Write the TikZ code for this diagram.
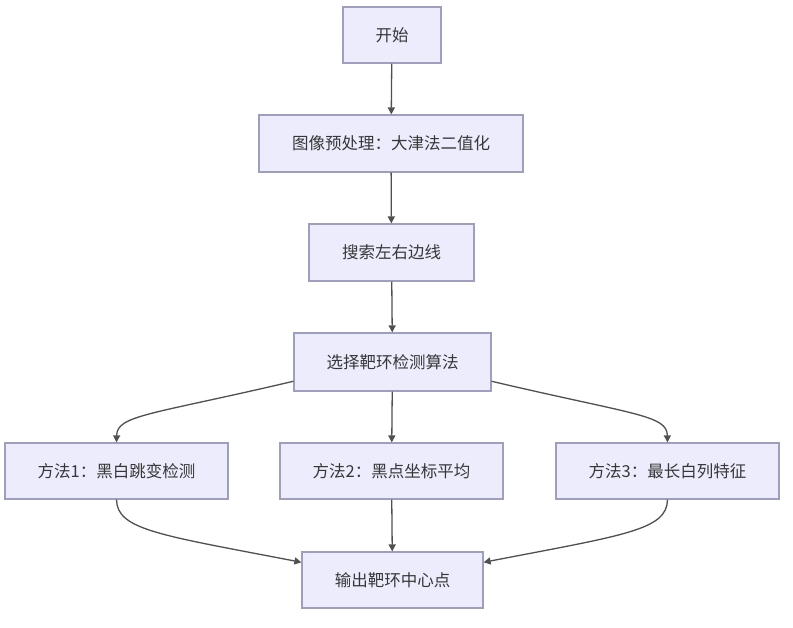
\documentclass[tikz,border=0pt]{standalone}
\usepackage{fontspec}
\setmainfont{Noto Sans CJK SC}
\usetikzlibrary{arrows.meta}
\definecolor{boxfill}{RGB}{236,236,252}
\definecolor{boxdraw}{RGB}{158,158,190}
\definecolor{linecol}{RGB}{80,80,80}
\definecolor{textcol}{RGB}{55,55,55}
\begin{document}
\begin{tikzpicture}[x=1pt,y=-1pt,
  box/.style={draw=boxdraw,fill=boxfill,line width=1.2pt,rectangle,inner sep=0pt,
    text=textcol,font=\fontsize{16.5}{19}\selectfont,align=center},
  conn/.style={draw=linecol,line width=1.3pt,-{Triangle[length=7pt,width=7pt]}}]
\useasboundingbox (0,0) rectangle (793,627);
\fill[white] (0,0) rectangle (793,627);
\node[box,minimum width=98pt,minimum height=56pt] (n1) at (392,35) {开始};
\node[box,minimum width=264pt,minimum height=57pt] (n2) at (391,143.5) {图像预处理：大津法二值化};
\node[box,minimum width=165pt,minimum height=57pt] (n3) at (391.5,252.5) {搜索左右边线};
\node[box,minimum width=197pt,minimum height=58pt] (n4) at (392.5,362) {选择靶环检测算法};
\node[box,minimum width=223pt,minimum height=56pt] (n5) at (116.5,471) {方法1：黑白跳变检测};
\node[box,minimum width=223pt,minimum height=56pt] (n6) at (391.5,471) {方法2：黑点坐标平均};
\node[box,minimum width=223pt,minimum height=56pt] (n7) at (667.5,471) {方法3：最长白列特征};
\node[box,minimum width=181pt,minimum height=56pt] (n8) at (392.5,580) {输出靶环中心点};
\draw[conn] (n1) -- (n2);
\draw[conn] (n2) -- (n3);
\draw[conn] (n3) -- (n4);
\draw[conn] (n4) -- (n6);
\draw[conn] (n6) -- (n8);
\draw[conn] (n4.191) .. controls (150,415) and (117,415) .. (n5.north);
\draw[conn] (n4.-11) .. controls (635,415) and (667,415) .. (n7.north);
\draw[conn] (n5.south) .. controls (117,530) and (160,535) .. (n8.169);
\draw[conn] (n7.south) .. controls (667,530) and (625,535) .. (n8.11);
\end{tikzpicture}
\end{document}
